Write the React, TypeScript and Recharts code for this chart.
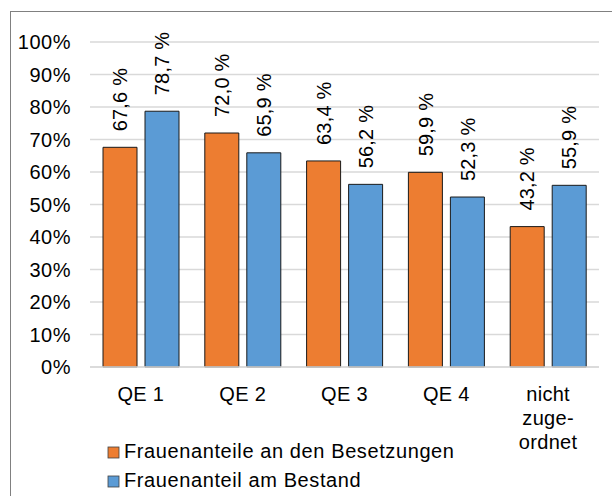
import React from 'react';
import { BarChart, Bar, XAxis, YAxis, CartesianGrid, Legend, LabelList } from 'recharts';

const categories = ['QE 1', 'QE 2', 'QE 3', 'QE 4', 'nicht zuge- ordnet'];
const besetzungen = [0.676, 0.72, 0.634, 0.599, 0.432];
const bestand = [0.787, 0.659, 0.562, 0.523, 0.559];
const yTicks = [0, 0.1, 0.2, 0.3, 0.4, 0.5, 0.6, 0.7, 0.8, 0.9, 1];
const seriesNames = ['Frauenanteile an den Besetzungen', 'Frauenanteil am Bestand'];
const seriesColors = ['#ED7D31', '#5B9BD5'];

const data = categories.map((c, i) => ({ cat: c, a: besetzungen[i], b: bestand[i] }));

const FONT = 'Liberation Sans, Arial, sans-serif';

const fmt = (v: number) => (v * 100).toFixed(1).replace('.', ',') + ' %';

const RotLabel = (props: any) => {
  const { x, y, width, value } = props;
  const cx = x + width / 2;
  const ty = y - 16;
  return (
    <text
      x={cx}
      y={ty}
      transform={`rotate(-90 ${cx} ${ty})`}
      dy="0.36em"
      textAnchor="start"
      fontSize={20}
      fontFamily={FONT}
      fill="#000"
      letterSpacing={0.2}
    >
      {fmt(value)}
    </text>
  );
};

const XTick = (props: any) => {
  const { x, y, payload } = props;
  const parts = String(payload.value).startsWith('QE') ? [payload.value] : String(payload.value).split(' ');
  return (
    <text x={x} y={y} textAnchor="middle" fontSize={20} fontFamily={FONT} fill="#000" letterSpacing={0.3}>
      {parts.map((l: string, i: number) => (
        <tspan key={i} x={x} dy={i === 0 ? 32 : 24}>
          {l}
        </tspan>
      ))}
    </text>
  );
};

const LegendContent = () => (
  <svg width={612} height={56} style={{ display: 'block' }}>
    {seriesNames.map((n, i) => (
      <g key={n}>
        <rect x={108} y={7 + i * 29} width={11} height={11} fill={seriesColors[i]} stroke="#404040" strokeWidth={0.8} />
        <text x={124} y={18.3 + i * 29} fontSize={20} fontFamily={FONT} fill="#000" letterSpacing={0.6}>
          {n}
        </text>
      </g>
    ))}
  </svg>
);

export default function App() {
  return (
    <div style={{ position: 'absolute', left: 0, top: 0, width: 612, height: 496, overflow: 'hidden', background: '#fff' }}>
      <div
        style={{
          position: 'absolute',
          left: 10,
          top: 11,
          width: 640,
          height: 520,
          border: '1px solid #808080',
          boxSizing: 'border-box',
        }}
      />
      <div style={{ position: 'absolute', left: 0, top: 0 }}>
        <BarChart
          width={612}
          height={496}
          data={data}
          margin={{ top: 42, right: 13, bottom: 0, left: 0 }}
          barSize={34}
          barGap={8}
        >
          <CartesianGrid vertical={false} stroke="#d9d9d9" strokeWidth={1.5} />
          <XAxis
            dataKey="cat"
            axisLine={{ stroke: '#d9d9d9', strokeWidth: 1.5 }}
            tickLine={false}
            tickSize={0}
            height={73}
            interval={0}
            tick={<XTick />}
          />
          <YAxis
            domain={[0, 1]}
            ticks={yTicks}
            width={90}
            axisLine={false}
            tickLine={false}
            tickSize={0}
            tickMargin={19}
            tickFormatter={(v: number) => Math.round(v * 100) + '%'}
            tick={{ fontSize: 20, fontFamily: FONT, fill: '#000', letterSpacing: 0.5 }}
          />
          <Legend verticalAlign="bottom" align="left" content={<LegendContent />} />
          <Bar dataKey="a" name={seriesNames[0]} fill={seriesColors[0]} stroke="#1a1a1a" strokeWidth={1} isAnimationActive={false}>
            <LabelList dataKey="a" content={<RotLabel />} />
          </Bar>
          <Bar dataKey="b" name={seriesNames[1]} fill={seriesColors[1]} stroke="#1a1a1a" strokeWidth={1} isAnimationActive={false}>
            <LabelList dataKey="b" content={<RotLabel />} />
          </Bar>
        </BarChart>
      </div>
    </div>
  );
}
